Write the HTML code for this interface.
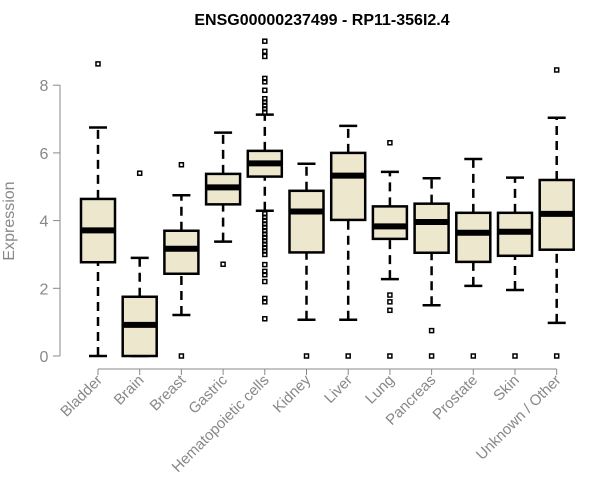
<!DOCTYPE html>
<html><head><meta charset="utf-8"><style>body{margin:0;background:#fff}svg{display:block;font-family:"Liberation Sans",Arial,sans-serif}</style></head>
<body>
<svg id="c" width="600" height="500">
<text x="322" y="25" text-anchor="middle" font-weight="bold" font-size="16">ENSG00000237499 - RP11-356I2.4</text>
<text transform="translate(14,221) rotate(-90)" text-anchor="middle" font-size="16" fill="#888">Expression</text>
</svg>
<script>
const categories=["Bladder","Brain","Breast","Gastric","Hematopoietic cells","Kidney","Liver","Lung","Pancreas","Prostate","Skin","Unknown / Other"];
const whiskerLow=[0,0,1.21,3.38,4.29,1.07,1.07,2.27,1.5,2.07,1.95,0.98];
const q1=[2.77,0,2.43,4.48,5.3,3.06,4.02,3.46,3.05,2.78,2.96,3.14];
const median=[3.71,0.92,3.17,4.98,5.69,4.27,5.33,3.83,3.96,3.64,3.67,4.2];
const q3=[4.64,1.75,3.7,5.38,6.06,4.88,6.0,4.42,4.5,4.23,4.23,5.2];
const whiskerHigh=[6.75,2.9,4.75,6.6,7.13,5.68,6.8,5.44,5.25,5.82,5.27,7.04];
const outliers=[[8.63],[5.4],[5.65,0],[2.71],[9.3,9.0,8.85,8.2,8.1,7.85,7.6,7.5,7.4,7.3,7.2,4.2,4.1,4.0,3.9,3.8,3.7,3.6,3.5,3.4,3.3,3.2,3.1,3.0,2.7,2.5,2.4,2.2,1.7,1.6,1.1],[0],[0],[6.3,1.8,1.6,1.35,0],[0.75,0],[0],[0],[8.45,0]];
const yTicks=[0,2,4,6,8];
const NS="http://www.w3.org/2000/svg",svg=document.getElementById('c');
const y=v=>356-v*33.85, x=i=>98+i*41.7;
function mk(t,a){const e=document.createElementNS(NS,t);for(const k in a)e.setAttribute(k,a[k]);svg.appendChild(e);return e;}
let ax=mk('line',{x1:60,x2:60,y1:y(0),y2:y(8),stroke:'#888'});

yTicks.forEach(v=>{const t=mk('line',{x1:53,x2:60,y1:y(v),y2:y(v),stroke:'#888'});

const l=mk('text',{x:44,y:y(v)+6,'text-anchor':'middle','font-size':16,fill:'#888'});l.textContent=v;
});
let xa=mk('line',{x1:x(0),x2:x(11),y1:369,y2:369,stroke:'#888'});

categories.forEach((c,i)=>{const cx=x(i),w=17;
const t=mk('line',{x1:cx,x2:cx,y1:369,y2:375,stroke:'#888'});
const l=mk('text',{transform:`translate(${cx+5},${381}) rotate(-45)`,'text-anchor':'end','font-size':15,fill:'#888'});l.textContent=c;

const g=mk('g',{});
const add=(t,a)=>{const e=document.createElementNS(NS,t);for(const k in a)e.setAttribute(k,a[k]);g.appendChild(e);return e;};
add('line',{x1:cx,x2:cx,y1:y(whiskerLow[i]),y2:y(q1[i]),stroke:'#000','stroke-width':2.5,'stroke-dasharray':'9,6'});
add('line',{x1:cx,x2:cx,y1:y(q3[i]),y2:y(whiskerHigh[i]),stroke:'#000','stroke-width':2.5,'stroke-dasharray':'9,6'});
add('line',{x1:cx-9,x2:cx+9,y1:y(whiskerLow[i]),y2:y(whiskerLow[i]),stroke:'#000','stroke-width':2.5});
add('line',{x1:cx-9,x2:cx+9,y1:y(whiskerHigh[i]),y2:y(whiskerHigh[i]),stroke:'#000','stroke-width':2.5});
add('rect',{x:cx-w,y:y(q3[i]),width:2*w,height:Math.max(0,y(q1[i])-y(q3[i])),fill:'#ede7cd',stroke:'#000','stroke-width':2.5});
add('line',{x1:cx-w,x2:cx+w,y1:y(median[i]),y2:y(median[i]),stroke:'#000','stroke-width':6});
outliers[i].forEach(v=>add('rect',{x:cx-2,y:y(v)-2,width:4,height:4,fill:'none',stroke:'#000','stroke-width':1.5}));
});
</script>
</body></html>
